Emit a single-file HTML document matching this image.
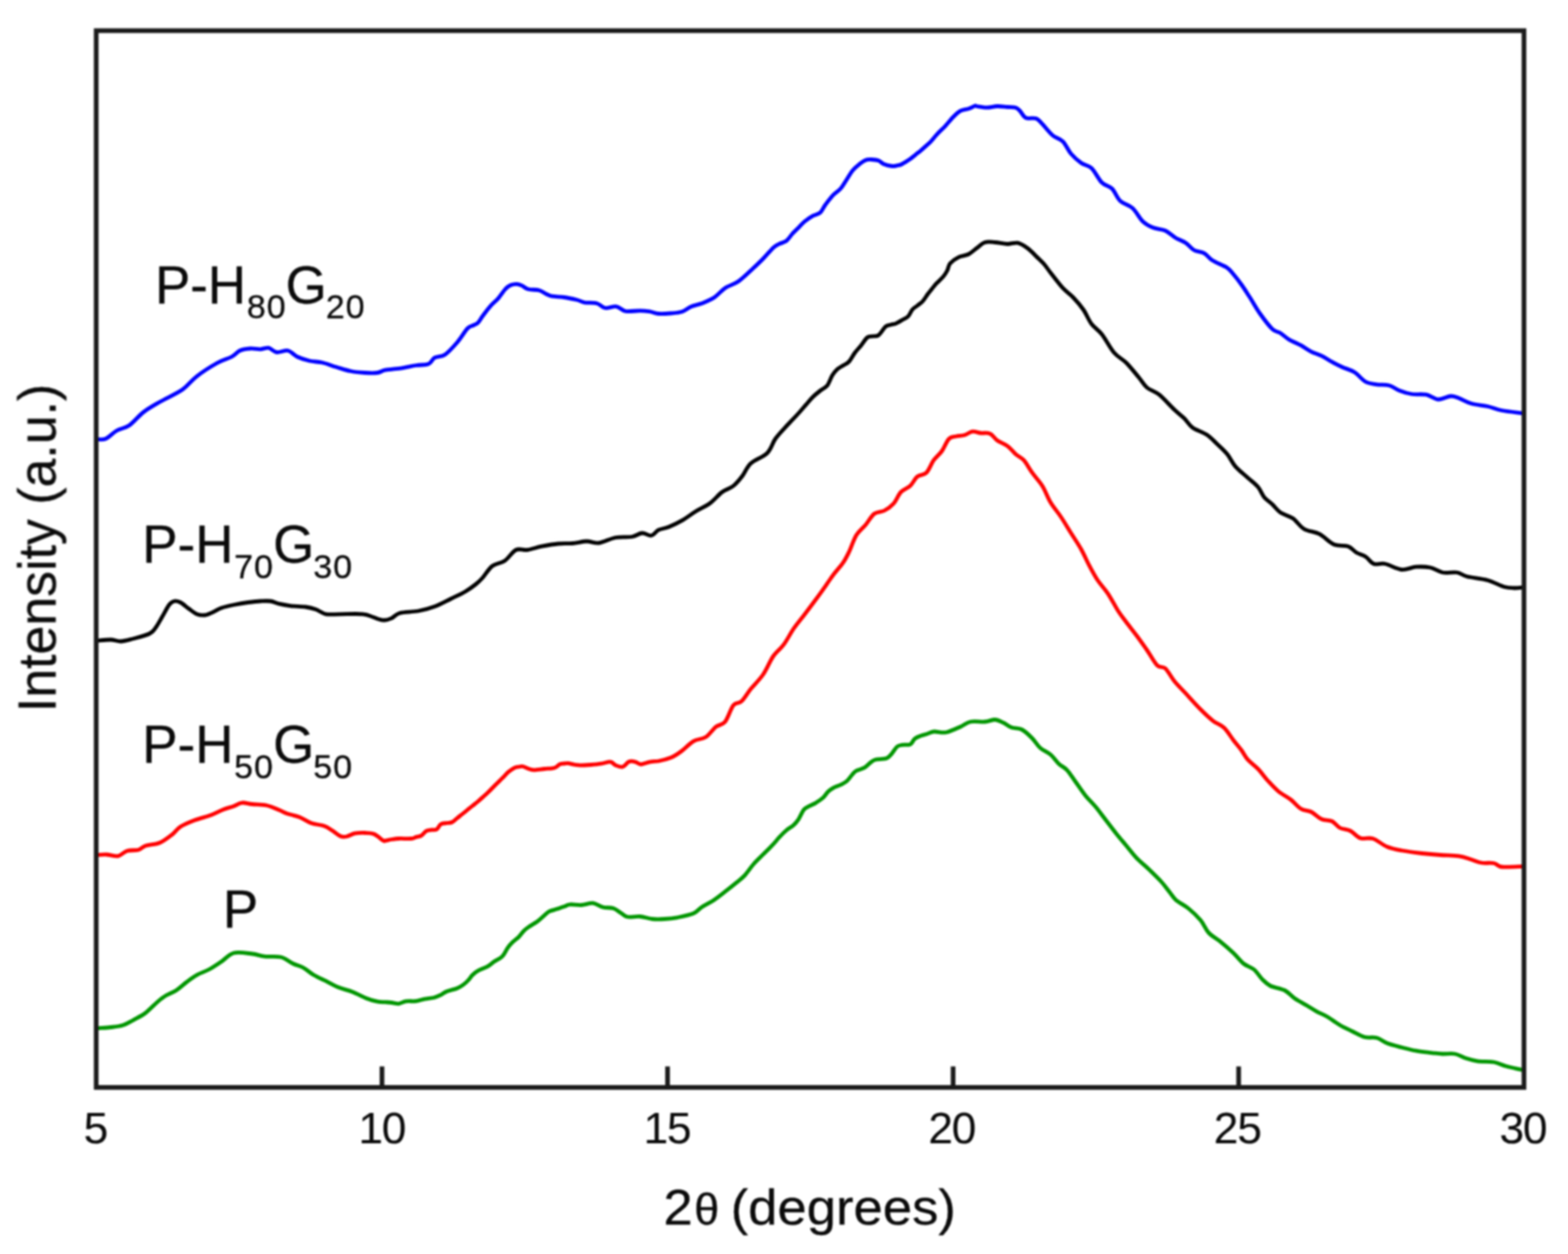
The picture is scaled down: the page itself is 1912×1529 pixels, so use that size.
<!DOCTYPE html>
<html lang="en"><head><meta charset="utf-8"><title>XRD patterns</title>
<style>
html,body{margin:0;padding:0;background:#fff;}
body{width:1912px;height:1529px;overflow:hidden;}
svg{display:block;}
text{font-family:"Liberation Sans",Arial,Helvetica,sans-serif;fill:#0a0a0a;stroke:#0a0a0a;stroke-width:0.35;stroke-linejoin:round;}
.c{fill:none;stroke-width:4.8;stroke-linejoin:round;stroke-linecap:butt;}
.tk{font-size:54px;letter-spacing:-1.5px;stroke-width:0.1;}
.xl{font-size:62px;}
.th{font-size:53px;}
.yl{font-size:63.2px;text-anchor:middle;}
.lb{font-size:64.5px;}
.sb{font-size:41.5px;letter-spacing:1.2px;}
</style></head><body>
<svg xmlns="http://www.w3.org/2000/svg" width="1912" height="1529" viewBox="0 0 1912 1529">
<defs><filter id="soft" x="-2%" y="-2%" width="104%" height="104%" color-interpolation-filters="sRGB"><feGaussianBlur stdDeviation="0.9"/></filter></defs>
<rect x="0" y="0" width="1912" height="1529" fill="#ffffff"/>
<g filter="url(#soft)">
<path class="c" stroke="#009600" d="M118.5 1253.8C121.2 1253.5 129.8 1253.1 135.0 1252.5C140.2 1251.9 145.4 1251.5 150.0 1250.0C154.6 1248.5 157.9 1246.2 162.5 1243.8C167.1 1241.2 172.5 1238.8 177.5 1235.0C182.5 1231.2 188.3 1224.8 192.5 1221.2C196.7 1217.7 198.8 1216.0 202.5 1213.8C206.2 1211.5 210.8 1210.2 215.0 1207.5C219.2 1204.8 223.3 1200.6 227.5 1197.5C231.7 1194.4 235.4 1191.3 240.0 1188.8C244.6 1186.2 250.0 1184.7 255.0 1182.0C260.0 1179.3 265.0 1175.8 270.0 1172.5C275.0 1169.2 278.8 1163.6 285.0 1162.0C291.2 1160.4 301.2 1162.3 307.5 1163.0C313.8 1163.7 316.7 1165.6 322.5 1166.2C328.3 1166.9 336.7 1165.5 342.5 1167.0C348.3 1168.5 352.9 1172.8 357.5 1175.0C362.1 1177.2 365.8 1177.7 370.0 1180.0C374.2 1182.3 377.9 1186.0 382.5 1188.8C387.1 1191.5 392.5 1193.8 397.5 1196.2C402.5 1198.8 407.1 1201.5 412.5 1203.8C417.9 1206.0 424.2 1207.2 430.0 1209.5C435.8 1211.8 442.5 1215.5 447.5 1217.5C452.5 1219.5 456.2 1220.5 460.0 1221.2C463.8 1222.0 467.1 1221.7 470.0 1221.9C472.9 1222.1 474.8 1222.2 477.5 1222.5C480.2 1222.8 483.3 1224.0 486.2 1223.8C489.2 1223.5 491.5 1221.4 495.0 1220.9C498.5 1220.4 503.8 1221.1 507.5 1220.6C511.2 1220.2 513.8 1218.8 517.5 1218.1C521.2 1217.4 526.7 1217.1 530.0 1216.2C533.3 1215.4 535.0 1214.4 537.5 1213.1C540.0 1211.9 541.7 1210.1 545.0 1208.8C548.3 1207.4 554.2 1206.4 557.5 1205.0C560.8 1203.6 562.7 1202.3 565.0 1200.6C567.3 1199.0 569.4 1197.0 571.2 1195.0C573.1 1193.0 574.4 1190.6 576.2 1188.8C578.1 1186.9 579.4 1185.5 582.5 1183.8C585.6 1182.0 591.7 1180.0 595.0 1178.1C598.3 1176.2 599.6 1174.5 602.5 1172.5C605.4 1170.5 609.8 1169.0 612.5 1166.2C615.2 1163.5 616.7 1159.2 618.8 1156.2C620.8 1153.3 622.7 1151.0 625.0 1148.8C627.3 1146.5 630.2 1144.8 632.5 1142.5C634.8 1140.2 636.7 1137.1 638.8 1135.0C640.8 1132.9 642.3 1131.9 645.0 1130.0C647.7 1128.1 651.9 1126.0 655.0 1123.8C658.1 1121.5 661.2 1118.3 663.8 1116.2C666.2 1114.2 667.3 1112.6 670.0 1111.2C672.7 1109.9 676.9 1109.2 680.0 1108.1C683.1 1107.1 686.2 1105.9 688.8 1105.0C691.2 1104.1 691.6 1103.0 695.0 1102.8C698.4 1102.5 704.3 1103.8 709.0 1103.5C713.7 1103.2 718.6 1100.8 723.0 1101.2C727.4 1101.7 731.3 1105.2 735.5 1106.2C739.7 1107.3 744.2 1106.2 748.0 1107.5C751.8 1108.8 755.1 1112.0 758.0 1113.8C760.9 1115.5 761.8 1117.4 765.5 1118.0C769.2 1118.6 775.5 1117.1 780.5 1117.5C785.5 1117.9 790.5 1120.0 795.5 1120.5C800.5 1121.0 805.5 1120.8 810.5 1120.5C815.5 1120.2 819.7 1119.9 825.5 1118.8C831.3 1117.6 840.5 1115.8 845.5 1113.8C850.5 1111.7 851.3 1109.0 855.5 1106.2C859.7 1103.5 865.5 1100.8 870.5 1097.5C875.5 1094.2 880.9 1089.8 885.5 1086.2C890.1 1082.7 894.2 1079.4 898.0 1076.2C901.8 1073.1 904.5 1071.3 908.0 1067.5C911.5 1063.7 915.1 1057.9 919.0 1053.5C922.9 1049.1 927.5 1045.0 931.2 1041.2C935.0 1037.5 938.1 1034.6 941.2 1031.2C944.4 1027.9 947.1 1024.4 950.0 1021.2C952.9 1018.1 955.8 1015.0 958.8 1012.5C961.7 1010.0 965.0 1008.5 967.5 1006.2C970.0 1004.0 971.7 1001.9 973.8 998.8C975.8 995.6 978.1 990.0 980.0 987.5C981.9 985.0 982.5 985.2 985.0 983.8C987.5 982.3 991.9 980.6 995.0 978.8C998.1 976.9 1001.2 974.8 1003.8 972.5C1006.2 970.2 1007.9 967.0 1010.0 965.0C1012.1 963.0 1013.8 962.0 1016.2 960.6C1018.8 959.2 1022.3 958.2 1025.0 956.9C1027.7 955.5 1030.2 954.5 1032.5 952.5C1034.8 950.5 1036.9 947.1 1038.8 945.0C1040.6 942.9 1041.2 941.5 1043.8 940.0C1046.2 938.5 1050.8 937.9 1053.8 936.2C1056.7 934.6 1059.0 931.7 1061.2 930.0C1063.5 928.3 1064.2 927.2 1067.5 926.2C1070.8 925.3 1077.9 925.8 1081.2 924.5C1084.6 923.2 1085.4 921.1 1087.5 918.8C1089.6 916.4 1091.7 912.2 1093.8 910.5C1095.8 908.8 1097.3 908.8 1100.0 908.3C1102.7 907.8 1107.5 908.8 1110.0 907.6C1112.5 906.4 1113.1 902.9 1115.0 901.2C1116.9 899.6 1118.8 898.7 1121.2 897.7C1123.8 896.7 1127.0 896.0 1130.0 895.0C1133.0 894.0 1135.1 892.3 1139.0 892.0C1142.9 891.7 1148.2 894.0 1153.5 893.0C1158.8 892.0 1166.0 888.4 1171.0 886.2C1176.0 884.1 1178.5 881.0 1183.5 880.0C1188.5 879.0 1196.0 880.4 1201.0 880.0C1206.0 879.6 1209.8 877.3 1213.5 877.5C1217.2 877.7 1220.2 879.7 1223.5 881.2C1226.8 882.8 1229.8 885.6 1233.5 887.0C1237.2 888.4 1241.8 887.3 1246.0 889.5C1250.2 891.7 1254.8 896.2 1258.5 900.0C1262.2 903.8 1264.8 908.7 1268.5 912.0C1272.2 915.3 1277.2 916.8 1281.0 920.0C1284.8 923.2 1287.7 928.1 1291.0 931.2C1294.3 934.4 1297.7 935.2 1301.0 938.8C1304.3 942.3 1307.2 947.3 1311.0 952.5C1314.8 957.7 1319.3 964.8 1323.5 970.0C1327.7 975.2 1331.8 978.8 1336.0 983.8C1340.2 988.8 1344.3 994.6 1348.5 1000.0C1352.7 1005.4 1356.8 1011.0 1361.0 1016.2C1365.2 1021.5 1369.3 1026.2 1373.5 1031.2C1377.7 1036.2 1381.4 1041.5 1386.0 1046.2C1390.6 1051.0 1396.0 1055.2 1401.0 1060.0C1406.0 1064.8 1411.8 1070.4 1416.0 1075.0C1420.2 1079.6 1423.0 1083.8 1426.0 1087.5C1429.0 1091.2 1430.2 1094.2 1434.0 1097.5C1437.8 1100.8 1444.0 1103.4 1449.0 1107.5C1454.0 1111.6 1459.8 1117.0 1464.0 1122.0C1468.2 1127.0 1469.8 1133.0 1474.0 1137.5C1478.2 1142.0 1484.0 1144.7 1489.0 1148.8C1494.0 1152.8 1499.4 1157.6 1504.0 1162.0C1508.6 1166.4 1512.3 1171.7 1516.5 1175.0C1520.7 1178.3 1525.2 1178.9 1529.0 1182.0C1532.8 1185.1 1535.7 1190.4 1539.0 1193.8C1542.3 1197.1 1544.4 1199.7 1549.0 1202.0C1553.6 1204.3 1561.5 1204.9 1566.5 1207.5C1571.5 1210.1 1574.4 1214.4 1579.0 1217.5C1583.6 1220.6 1589.4 1223.5 1594.0 1226.2C1598.6 1229.0 1602.3 1231.5 1606.5 1233.8C1610.7 1236.0 1614.4 1237.3 1619.0 1240.0C1623.6 1242.7 1629.0 1247.1 1634.0 1250.0C1639.0 1252.9 1644.0 1255.1 1649.0 1257.5C1654.0 1259.9 1659.0 1263.2 1664.0 1264.5C1669.0 1265.8 1674.4 1264.2 1679.0 1265.5C1683.6 1266.8 1686.5 1270.1 1691.5 1272.0C1696.5 1273.9 1703.2 1275.5 1709.0 1277.0C1714.8 1278.5 1720.2 1280.1 1726.5 1281.2C1732.8 1282.4 1741.1 1283.1 1746.5 1283.8C1751.9 1284.4 1754.4 1284.8 1759.0 1285.0C1763.6 1285.2 1769.4 1284.2 1774.0 1285.0C1778.6 1285.8 1781.9 1288.5 1786.5 1290.0C1791.1 1291.5 1795.7 1292.9 1801.5 1293.8C1807.3 1294.6 1815.7 1294.0 1821.5 1295.0C1827.3 1296.0 1830.7 1298.4 1836.5 1300.0C1842.3 1301.6 1853.2 1303.8 1856.5 1304.5"/>
<path class="c" stroke="#ff0000" d="M118.5 1042.5C120.4 1042.4 125.8 1041.8 130.0 1042.0C134.2 1042.2 139.6 1044.5 143.8 1043.8C147.9 1043.0 150.8 1038.8 155.0 1037.5C159.2 1036.2 165.0 1037.3 168.8 1036.2C172.5 1035.2 173.1 1032.7 177.5 1031.2C181.9 1029.8 189.6 1029.8 195.0 1027.5C200.4 1025.2 205.8 1020.8 210.0 1017.5C214.2 1014.2 215.4 1010.9 220.0 1008.0C224.6 1005.1 231.2 1002.4 237.5 1000.0C243.8 997.6 251.7 995.9 257.5 993.8C263.3 991.6 267.9 988.8 272.5 987.0C277.1 985.2 281.2 984.4 285.0 983.0C288.8 981.6 291.2 979.2 295.0 978.8C298.8 978.3 302.5 980.0 307.5 980.5C312.5 981.0 319.6 980.8 325.0 982.0C330.4 983.2 335.8 985.8 340.0 987.5C344.2 989.2 345.8 990.5 350.0 992.0C354.2 993.5 360.0 994.3 365.0 996.2C370.0 998.2 375.0 1002.0 380.0 1003.8C385.0 1005.5 390.8 1005.5 395.0 1007.0C399.2 1008.5 401.7 1010.4 405.0 1012.5C408.3 1014.6 412.1 1018.2 415.0 1019.5C417.9 1020.8 419.6 1020.5 422.5 1020.0C425.4 1019.5 428.8 1017.0 432.5 1016.2C436.2 1015.5 441.0 1015.4 445.0 1015.5C449.0 1015.6 452.5 1015.4 456.2 1017.0C460.0 1018.6 465.2 1023.7 467.5 1025.0C469.8 1026.3 468.3 1025.2 470.0 1025.0C471.7 1024.8 474.8 1023.9 477.5 1023.5C480.2 1023.1 482.3 1022.7 486.2 1022.5C490.2 1022.3 497.7 1022.8 501.2 1022.5C504.8 1022.2 505.4 1021.2 507.5 1020.6C509.6 1020.0 511.7 1020.0 513.8 1018.8C515.8 1017.5 517.9 1014.3 520.0 1013.1C522.1 1012.0 524.2 1012.2 526.2 1011.9C528.3 1011.6 530.6 1012.4 532.5 1011.2C534.4 1010.1 535.4 1006.3 537.5 1005.0C539.6 1003.7 542.7 1003.9 545.0 1003.5C547.3 1003.1 549.2 1003.5 551.2 1002.5C553.3 1001.5 555.4 999.2 557.5 997.5C559.6 995.8 561.7 994.2 563.8 992.5C565.8 990.8 567.9 989.2 570.0 987.5C572.1 985.8 574.2 984.2 576.2 982.5C578.3 980.8 580.4 979.3 582.5 977.5C584.6 975.7 586.7 973.8 588.8 971.9C590.8 970.0 592.9 968.2 595.0 966.2C597.1 964.3 599.2 962.1 601.2 960.0C603.3 957.9 605.4 955.8 607.5 953.8C609.6 951.7 611.7 949.6 613.8 947.5C615.8 945.4 617.7 943.1 620.0 941.2C622.3 939.4 625.4 937.3 627.5 936.2C629.6 935.2 630.8 935.3 632.5 935.0C634.2 934.7 635.4 934.1 637.5 934.5C639.6 934.9 642.7 936.8 645.0 937.5C647.3 938.2 648.1 938.8 651.2 938.8C654.4 938.8 659.6 937.9 663.8 937.5C667.9 937.1 673.1 937.2 676.2 936.2C679.4 935.3 680.6 932.8 682.5 931.9C684.4 931.0 685.8 931.2 687.5 931.0C689.2 930.8 690.2 930.4 692.5 930.6C694.8 930.9 698.8 932.1 701.2 932.5C703.8 932.9 704.3 933.1 707.5 933.1C710.7 933.1 716.2 932.8 720.5 932.5C724.8 932.2 729.0 931.9 733.0 931.2C737.0 930.6 741.3 928.5 744.2 928.8C747.2 929.0 748.0 932.0 750.5 933.0C753.0 934.0 756.5 935.7 759.2 935.0C762.0 934.3 764.2 929.8 766.8 928.8C769.2 927.7 771.8 928.2 774.2 928.8C776.8 929.3 778.6 932.0 781.8 932.0C784.9 932.0 789.5 929.4 793.0 928.8C796.5 928.1 798.8 928.8 803.0 928.0C807.2 927.2 813.4 925.7 818.0 923.8C822.6 921.8 825.9 919.6 830.5 916.2C835.1 912.9 840.5 906.7 845.5 903.8C850.5 900.8 855.9 901.7 860.5 898.8C865.1 895.8 869.0 889.4 873.0 886.2C877.0 883.1 880.7 884.4 884.2 880.0C887.8 875.6 890.9 864.2 894.2 860.0C897.6 855.8 900.7 858.3 904.2 855.0C907.8 851.7 911.1 845.4 915.5 840.0C919.9 834.6 925.9 829.2 930.5 822.5C935.1 815.8 938.8 806.0 943.0 800.0C947.2 794.0 951.3 791.9 955.5 786.2C959.7 780.6 963.8 772.3 968.0 766.2C972.2 760.2 975.9 756.0 980.5 750.0C985.1 744.0 990.9 736.2 995.5 730.0C1000.1 723.8 1004.5 717.5 1008.0 712.5C1011.5 707.5 1013.4 704.4 1016.8 700.0C1020.1 695.6 1024.9 690.8 1028.0 686.2C1031.1 681.7 1032.8 678.1 1035.5 672.5C1038.2 666.9 1040.9 657.9 1044.2 652.5C1047.6 647.1 1051.9 644.3 1055.5 640.0C1059.1 635.7 1062.2 629.4 1066.0 626.5C1069.8 623.6 1074.5 624.6 1078.5 622.5C1082.5 620.4 1086.4 617.5 1089.8 613.8C1093.1 610.0 1095.2 603.5 1098.5 600.0C1101.8 596.5 1106.4 595.6 1109.8 592.5C1113.1 589.4 1115.2 584.0 1118.5 581.2C1121.8 578.5 1126.4 579.6 1129.8 576.2C1133.1 572.9 1135.4 565.6 1138.5 561.2C1141.6 556.9 1145.4 554.4 1148.5 550.0C1151.6 545.6 1154.3 538.0 1157.2 535.0C1160.2 532.0 1162.9 532.8 1166.0 532.0C1169.1 531.2 1172.7 531.5 1176.0 530.5C1179.3 529.5 1182.7 526.7 1186.0 526.2C1189.3 525.8 1192.5 527.6 1196.0 528.0C1199.5 528.4 1203.9 527.2 1207.2 528.8C1210.6 530.2 1212.5 534.5 1216.0 537.0C1219.5 539.5 1224.8 541.0 1228.5 543.8C1232.2 546.5 1235.2 550.8 1238.5 553.8C1241.8 556.7 1245.2 557.5 1248.5 561.2C1251.8 565.0 1254.8 571.0 1258.5 576.2C1262.2 581.5 1267.2 586.5 1271.0 592.5C1274.8 598.5 1277.2 606.2 1281.0 612.5C1284.8 618.8 1289.3 623.8 1293.5 630.0C1297.7 636.2 1301.8 643.3 1306.0 650.0C1310.2 656.7 1314.8 663.3 1318.5 670.0C1322.2 676.7 1325.2 683.8 1328.5 690.0C1331.8 696.2 1334.8 701.9 1338.5 707.5C1342.2 713.1 1346.8 717.5 1351.0 723.8C1355.2 730.0 1359.8 739.2 1363.5 745.0C1367.2 750.8 1369.8 753.8 1373.5 758.8C1377.2 763.8 1381.8 769.4 1386.0 775.0C1390.2 780.6 1394.3 786.5 1398.5 792.5C1402.7 798.5 1407.2 807.5 1411.0 811.2C1414.8 815.0 1417.5 811.8 1421.0 815.0C1424.5 818.2 1427.8 825.3 1432.0 830.5C1436.2 835.7 1441.2 840.5 1446.5 846.2C1451.8 852.0 1458.6 859.6 1464.0 865.0C1469.4 870.4 1474.2 875.0 1479.0 878.8C1483.8 882.5 1488.6 883.5 1492.8 887.5C1496.9 891.5 1500.5 897.9 1504.0 902.5C1507.5 907.1 1511.1 911.0 1514.0 915.0C1516.9 919.0 1518.2 922.5 1521.5 926.2C1524.8 930.0 1529.8 933.1 1534.0 937.5C1538.2 941.9 1542.3 947.9 1546.5 952.5C1550.7 957.1 1554.4 961.2 1559.0 965.0C1563.6 968.8 1569.4 971.5 1574.0 975.0C1578.6 978.5 1582.3 983.8 1586.5 986.2C1590.7 988.8 1594.8 987.9 1599.0 990.0C1603.2 992.1 1607.3 996.9 1611.5 998.8C1615.7 1000.6 1620.2 999.5 1624.0 1001.2C1627.8 1003.0 1630.2 1007.5 1634.0 1009.5C1637.8 1011.5 1642.3 1010.9 1646.5 1013.0C1650.7 1015.1 1654.4 1020.4 1659.0 1022.0C1663.6 1023.6 1668.6 1020.8 1674.0 1022.5C1679.4 1024.2 1685.7 1030.1 1691.5 1032.5C1697.3 1034.9 1701.9 1035.7 1709.0 1037.0C1716.1 1038.3 1726.1 1039.6 1734.0 1040.5C1741.9 1041.4 1749.0 1042.0 1756.5 1042.5C1764.0 1043.0 1772.8 1042.8 1779.0 1043.8C1785.2 1044.7 1789.4 1046.6 1794.0 1048.0C1798.6 1049.4 1801.9 1051.2 1806.5 1052.0C1811.1 1052.8 1817.3 1051.7 1821.5 1052.5C1825.7 1053.3 1825.7 1056.3 1831.5 1057.0C1837.3 1057.7 1852.3 1056.6 1856.5 1056.5"/>
<path class="c" stroke="#000000" d="M118.5 781.2C121.2 781.0 130.2 779.9 135.0 780.0C139.8 780.1 142.9 782.2 147.5 782.0C152.1 781.8 156.7 780.3 162.5 778.8C168.3 777.2 177.9 774.8 182.5 772.5C187.1 770.2 187.5 768.3 190.0 765.0C192.5 761.7 194.8 757.1 197.5 752.5C200.2 747.9 203.8 740.8 206.2 737.5C208.8 734.2 210.2 733.5 212.5 733.0C214.8 732.5 217.1 733.0 220.0 734.5C222.9 736.0 226.7 739.6 230.0 742.0C233.3 744.4 236.7 747.4 240.0 748.8C243.3 750.1 246.7 750.4 250.0 750.0C253.3 749.6 256.7 747.7 260.0 746.2C263.3 744.8 265.8 742.7 270.0 741.2C274.2 739.8 279.6 738.6 285.0 737.5C290.4 736.4 297.1 735.2 302.5 734.5C307.9 733.8 312.9 733.2 317.5 733.0C322.1 732.8 326.2 732.5 330.0 733.0C333.8 733.5 335.8 735.3 340.0 736.2C344.2 737.2 349.6 738.1 355.0 738.8C360.4 739.4 367.5 739.3 372.5 740.0C377.5 740.7 380.8 741.5 385.0 743.0C389.2 744.5 392.5 747.8 397.5 748.8C402.5 749.7 407.5 748.8 415.0 748.8C422.5 748.8 435.8 748.1 442.5 748.8C449.2 749.4 450.8 751.2 455.0 752.5C459.2 753.8 463.8 756.0 467.5 756.2C471.2 756.5 474.2 755.2 477.5 753.8C480.8 752.3 482.1 749.0 487.5 747.5C492.9 746.0 502.9 746.3 510.0 745.0C517.1 743.7 523.3 742.0 530.0 739.5C536.7 737.0 543.8 733.0 550.0 730.0C556.2 727.0 562.5 724.2 567.5 721.2C572.5 718.3 576.6 715.2 580.0 712.5C583.4 709.8 584.6 708.8 588.0 705.0C591.4 701.2 595.9 693.5 600.5 690.0C605.1 686.5 610.7 687.0 615.5 683.8C620.3 680.5 624.7 672.7 629.2 670.5C633.8 668.3 637.8 671.2 643.0 670.5C648.2 669.8 654.2 667.5 660.5 666.2C666.8 665.0 674.2 663.6 680.5 663.0C686.8 662.4 692.2 663.0 698.0 662.5C703.8 662.0 710.1 660.1 715.5 660.0C720.9 659.9 724.7 662.8 730.5 662.0C736.3 661.2 743.8 656.8 750.5 655.5C757.2 654.2 765.1 655.4 770.5 654.5C775.9 653.6 779.0 650.2 783.0 650.0C787.0 649.8 790.9 653.6 794.2 653.0C797.6 652.4 799.5 648.0 803.0 646.2C806.5 644.5 810.5 644.6 815.5 642.5C820.5 640.4 827.6 636.9 833.0 633.8C838.4 630.6 842.6 627.1 848.0 623.8C853.4 620.4 860.1 617.7 865.5 613.8C870.9 609.8 875.7 603.5 880.5 600.0C885.3 596.5 890.1 595.8 894.2 592.5C898.4 589.2 902.0 584.6 905.5 580.0C909.0 575.4 910.5 569.6 915.5 565.0C920.5 560.4 930.5 557.5 935.5 552.5C940.5 547.5 941.8 540.2 945.5 535.0C949.2 529.8 954.0 525.0 957.5 521.1C961.0 517.3 963.3 515.0 966.2 511.9C969.2 508.8 972.2 505.6 975.0 502.5C977.8 499.4 980.4 496.2 983.1 493.1C985.8 490.0 988.4 486.8 991.2 484.0C994.1 481.2 997.1 478.8 1000.0 476.5C1002.9 474.2 1006.2 473.2 1008.8 470.0C1011.2 466.8 1012.9 460.8 1015.0 457.5C1017.1 454.2 1019.0 452.0 1021.2 450.0C1023.5 448.0 1026.5 446.7 1028.8 445.2C1031.0 443.8 1032.7 443.8 1035.0 441.2C1037.3 438.7 1040.0 433.3 1042.5 430.0C1045.0 426.7 1047.5 424.3 1050.0 421.2C1052.5 418.2 1055.1 413.4 1057.5 411.5C1059.9 409.6 1062.1 410.5 1064.4 410.0C1066.7 409.5 1068.6 410.7 1071.2 408.8C1073.9 406.8 1077.5 400.2 1080.0 398.1C1082.5 396.0 1084.2 396.6 1086.2 396.0C1088.3 395.4 1090.2 395.3 1092.5 394.4C1094.8 393.4 1097.5 391.7 1100.0 390.2C1102.5 388.8 1105.4 387.7 1107.5 385.6C1109.6 383.5 1110.6 379.7 1112.5 377.5C1114.4 375.3 1116.7 374.2 1118.8 372.5C1120.8 370.8 1122.9 369.8 1125.0 367.5C1127.1 365.2 1129.4 361.2 1131.2 358.8C1133.1 356.2 1134.6 354.6 1136.2 352.5C1137.9 350.4 1139.0 348.8 1141.2 346.2C1143.5 343.8 1147.7 340.2 1150.0 337.5C1152.3 334.8 1153.6 332.7 1155.0 330.0C1156.4 327.3 1156.2 324.0 1158.5 321.2C1160.8 318.5 1164.8 315.6 1168.5 313.8C1172.2 311.9 1177.2 311.9 1181.0 310.0C1184.8 308.1 1187.7 304.9 1191.0 302.5C1194.3 300.1 1197.2 296.7 1201.0 295.5C1204.8 294.3 1208.9 295.2 1213.5 295.5C1218.1 295.8 1223.9 297.4 1228.5 297.5C1233.1 297.6 1236.8 295.3 1241.0 296.2C1245.2 297.2 1249.8 300.3 1253.5 303.0C1257.2 305.7 1260.2 309.2 1263.5 312.5C1266.8 315.8 1270.6 319.2 1273.5 322.5C1276.4 325.8 1277.2 327.7 1281.0 332.5C1284.8 337.3 1291.4 346.2 1296.0 351.2C1300.6 356.2 1304.3 358.1 1308.5 362.5C1312.7 366.9 1317.2 372.1 1321.0 377.5C1324.8 382.9 1327.2 390.0 1331.0 395.0C1334.8 400.0 1338.9 401.7 1343.5 407.5C1348.1 413.3 1353.5 424.2 1358.5 430.0C1363.5 435.8 1368.5 437.5 1373.5 442.5C1378.5 447.5 1384.3 455.0 1388.5 460.0C1392.7 465.0 1394.3 469.0 1398.5 472.5C1402.7 476.0 1407.9 476.8 1413.5 481.2C1419.1 485.8 1426.9 494.7 1432.0 499.5C1437.1 504.3 1440.3 506.4 1444.0 510.0C1447.7 513.6 1449.4 517.9 1454.0 521.2C1458.6 524.6 1466.5 526.7 1471.5 530.0C1476.5 533.3 1479.8 537.3 1484.0 541.2C1488.2 545.2 1492.8 549.2 1496.5 553.8C1500.2 558.3 1502.3 564.0 1506.5 568.8C1510.7 573.5 1516.9 578.3 1521.5 582.5C1526.1 586.7 1530.7 589.8 1534.0 593.8C1537.3 597.7 1538.6 602.7 1541.5 606.2C1544.4 609.8 1548.2 611.9 1551.5 615.0C1554.8 618.1 1557.3 622.2 1561.5 625.0C1565.7 627.8 1571.7 628.7 1576.5 632.0C1581.3 635.3 1584.8 641.8 1590.2 645.0C1595.7 648.2 1603.0 648.1 1609.0 651.2C1615.0 654.4 1620.7 661.2 1626.5 663.8C1632.3 666.2 1639.4 664.6 1644.0 666.2C1648.6 667.9 1650.5 671.7 1654.0 673.8C1657.5 675.8 1661.7 676.5 1665.2 678.8C1668.8 681.0 1671.3 686.0 1675.2 687.5C1679.2 689.0 1683.4 686.3 1689.0 687.5C1694.6 688.7 1702.8 693.9 1709.0 694.5C1715.2 695.1 1720.7 691.7 1726.5 691.2C1732.3 690.8 1738.6 690.9 1744.0 692.0C1749.4 693.1 1753.6 697.0 1759.0 698.0C1764.4 699.0 1771.5 697.2 1776.5 698.0C1781.5 698.8 1782.8 701.4 1789.0 703.0C1795.2 704.6 1806.5 705.4 1814.0 707.5C1821.5 709.6 1828.6 713.9 1834.0 715.5C1839.4 717.1 1842.8 716.9 1846.5 717.0C1850.2 717.1 1854.8 716.4 1856.5 716.2"/>
<path class="c" stroke="#0000ff" d="M118.5 535.5C120.2 535.4 124.8 536.8 128.8 535.0C132.8 533.2 137.7 527.7 142.5 525.0C147.3 522.3 152.1 522.5 157.5 518.8C162.9 515.0 168.8 507.3 175.0 502.5C181.2 497.7 187.1 494.6 195.0 490.0C202.9 485.4 215.0 480.2 222.5 475.0C230.0 469.8 232.9 464.2 240.0 458.8C247.1 453.3 257.9 446.5 265.0 442.5C272.1 438.5 277.9 437.5 282.5 435.0C287.1 432.5 288.8 429.2 292.5 427.5C296.2 425.8 300.8 425.3 305.0 425.0C309.2 424.7 313.8 425.9 317.5 425.8C321.2 425.6 324.2 423.6 327.5 424.2C330.8 424.9 333.5 429.0 337.5 429.5C341.5 430.0 347.1 426.6 351.2 427.5C355.4 428.4 358.1 432.9 362.5 435.0C366.9 437.1 372.5 438.8 377.5 440.0C382.5 441.2 387.1 440.8 392.5 442.0C397.9 443.2 404.2 445.8 410.0 447.5C415.8 449.2 421.7 451.3 427.5 452.5C433.3 453.7 439.6 454.2 445.0 454.5C450.4 454.8 455.8 455.0 460.0 454.5C464.2 454.0 465.0 452.2 470.0 451.2C475.0 450.3 483.8 449.7 490.0 448.8C496.2 447.8 502.1 446.3 507.5 445.5C512.9 444.7 518.8 445.3 522.5 443.8C526.2 442.2 526.7 438.1 530.0 436.2C533.3 434.4 537.9 435.6 542.5 432.5C547.1 429.4 552.9 422.8 557.5 417.5C562.1 412.2 566.7 404.0 570.0 400.5C573.3 397.0 575.4 397.6 577.5 396.5C579.6 395.4 581.0 395.0 582.5 393.8C584.0 392.5 585.2 390.2 586.2 388.8C587.3 387.3 586.9 387.5 588.8 385.0C590.6 382.5 594.4 377.3 597.5 373.8C600.6 370.2 604.4 367.3 607.5 363.8C610.6 360.2 613.8 355.2 616.2 352.5C618.8 349.8 620.2 348.7 622.5 347.7C624.8 346.7 627.7 346.2 630.0 346.3C632.3 346.4 634.0 347.1 636.2 348.1C638.5 349.1 640.2 351.5 643.8 352.5C647.3 353.5 653.8 353.0 657.5 354.0C661.2 355.0 663.7 357.3 666.2 358.5C668.8 359.7 669.4 360.6 673.0 361.2C676.6 361.9 683.0 361.8 688.0 362.5C693.0 363.2 698.8 364.5 703.0 365.5C707.2 366.5 708.8 368.0 713.0 368.8C717.2 369.5 723.8 368.9 728.0 370.0C732.2 371.1 734.0 374.9 738.0 375.5C742.0 376.1 747.6 373.1 751.8 373.8C755.9 374.4 758.2 378.7 763.0 379.5C767.8 380.3 775.5 378.7 780.5 378.8C785.5 378.8 789.2 379.4 793.0 380.0C796.8 380.6 798.8 382.2 803.0 382.5C807.2 382.8 813.2 382.4 818.0 382.0C822.8 381.6 827.6 381.4 831.8 380.0C835.9 378.6 839.0 375.4 843.0 373.8C847.0 372.1 850.9 371.8 855.5 370.0C860.1 368.2 865.7 366.1 870.5 363.0C875.3 359.9 879.2 354.6 884.2 351.2C889.2 347.9 894.9 347.0 900.5 343.0C906.1 339.0 913.0 332.1 918.0 327.5C923.0 322.9 926.3 319.8 930.5 315.5C934.7 311.2 939.8 305.0 943.0 302.0C946.2 299.0 947.4 298.9 950.0 297.5C952.6 296.1 956.0 295.8 958.8 293.8C961.5 291.7 963.8 287.7 966.2 285.0C968.8 282.3 971.2 280.0 973.8 277.5C976.2 275.0 978.5 272.3 981.2 270.0C984.0 267.7 986.9 265.5 990.0 263.8C993.1 262.0 997.3 261.7 1000.0 259.4C1002.7 257.1 1003.8 253.4 1006.2 250.0C1008.8 246.6 1011.9 242.1 1015.0 238.8C1018.1 235.4 1022.1 233.3 1025.0 230.0C1027.9 226.7 1030.0 222.5 1032.5 218.8C1035.0 215.0 1037.5 210.5 1040.0 207.5C1042.5 204.5 1045.0 202.6 1047.5 200.6C1050.0 198.6 1052.5 196.4 1055.0 195.4C1057.5 194.4 1059.8 194.4 1062.5 194.5C1065.2 194.6 1068.8 194.8 1071.2 195.8C1073.8 196.7 1074.8 198.9 1077.5 200.0C1080.2 201.1 1084.8 202.2 1087.5 202.5C1090.2 202.8 1091.7 202.3 1093.8 201.9C1095.8 201.5 1097.3 201.4 1100.0 200.0C1102.7 198.6 1107.3 195.6 1110.0 193.8C1112.7 191.9 1114.2 190.4 1116.2 188.8C1118.3 187.1 1119.6 186.2 1122.5 183.8C1125.4 181.2 1130.4 177.1 1133.8 173.8C1137.1 170.4 1139.4 167.1 1142.5 163.8C1145.6 160.4 1149.2 157.3 1152.5 153.8C1155.8 150.2 1159.4 145.6 1162.5 142.5C1165.6 139.4 1168.1 136.9 1171.2 135.2C1174.4 133.6 1178.3 133.5 1181.2 132.5C1184.2 131.5 1187.4 129.5 1189.0 129.0C1190.6 128.5 1188.6 129.1 1191.0 129.5C1193.4 129.9 1199.3 131.2 1203.5 131.2C1207.7 131.2 1211.8 129.6 1216.0 129.5C1220.2 129.4 1224.8 130.2 1228.5 130.5C1232.2 130.8 1236.0 130.5 1238.5 131.2C1241.0 132.0 1241.4 132.9 1243.5 135.0C1245.6 137.1 1247.7 142.2 1251.0 143.8C1254.3 145.3 1260.2 143.2 1263.5 144.5C1266.8 145.8 1267.7 147.8 1271.0 151.2C1274.3 154.7 1279.3 161.5 1283.5 165.0C1287.7 168.5 1292.2 168.8 1296.0 172.5C1299.8 176.2 1302.2 183.1 1306.0 187.5C1309.8 191.9 1314.3 195.8 1318.5 198.8C1322.7 201.7 1326.8 201.0 1331.0 205.0C1335.2 209.0 1339.3 218.3 1343.5 222.5C1347.7 226.7 1352.2 226.2 1356.0 230.0C1359.8 233.8 1361.8 241.0 1366.0 245.0C1370.2 249.0 1376.4 249.6 1381.0 253.8C1385.6 257.9 1389.3 266.0 1393.5 270.0C1397.7 274.0 1401.4 275.6 1406.0 277.5C1410.6 279.4 1416.4 279.2 1421.0 281.2C1425.6 283.3 1429.3 287.5 1433.5 290.0C1437.7 292.5 1442.2 293.8 1446.0 296.2C1449.8 298.8 1452.2 302.9 1456.0 305.0C1459.8 307.1 1464.8 306.7 1468.5 308.8C1472.2 310.8 1473.9 314.6 1478.5 317.5C1483.1 320.4 1491.8 323.5 1496.0 326.2C1500.2 329.0 1500.4 330.1 1503.5 333.8C1506.6 337.4 1511.1 343.2 1514.5 348.0C1517.9 352.8 1520.3 356.8 1524.0 362.5C1527.7 368.2 1531.9 376.0 1536.5 382.5C1541.1 389.0 1547.3 397.3 1551.5 401.2C1555.7 405.2 1558.2 404.2 1561.5 406.2C1564.8 408.3 1567.3 411.2 1571.5 413.8C1575.7 416.2 1581.9 418.8 1586.5 421.2C1591.1 423.8 1594.8 426.7 1599.0 428.8C1603.2 430.8 1607.3 431.7 1611.5 433.8C1615.7 435.8 1619.8 439.0 1624.0 441.2C1628.2 443.5 1631.9 445.4 1636.5 447.5C1641.1 449.6 1646.7 450.8 1651.5 453.8C1656.3 456.8 1660.7 463.0 1665.2 465.5C1669.8 468.0 1674.2 468.0 1679.0 468.8C1683.8 469.5 1689.4 468.8 1694.0 470.0C1698.6 471.2 1701.9 474.5 1706.5 476.2C1711.1 478.0 1716.1 479.7 1721.5 480.5C1726.9 481.3 1733.6 480.2 1739.0 481.2C1744.4 482.3 1749.0 486.7 1754.0 487.0C1759.0 487.3 1764.8 483.2 1769.0 483.0C1773.2 482.8 1774.8 484.0 1779.0 485.5C1783.2 487.0 1788.2 490.3 1794.0 492.0C1799.8 493.7 1807.8 494.1 1814.0 495.5C1820.2 496.9 1824.4 499.1 1831.5 500.5C1838.6 501.9 1852.3 503.2 1856.5 503.8"/>
<line x1="465.8" y1="1300.3" x2="465.8" y2="1325.9" stroke="#1a1a1a" stroke-width="5.7"/>
<line x1="814.0" y1="1300.3" x2="814.0" y2="1325.9" stroke="#1a1a1a" stroke-width="5.7"/>
<line x1="1162.2" y1="1300.3" x2="1162.2" y2="1325.9" stroke="#1a1a1a" stroke-width="5.7"/>
<line x1="1510.4" y1="1300.3" x2="1510.4" y2="1325.9" stroke="#1a1a1a" stroke-width="5.7"/>
<rect x="117.30" y="37.40" width="1741.00" height="1288.50" fill="none" stroke="#1a1a1a" stroke-width="5.7"/>
<text class="tk" x="102.1" y="1394.3">5</text>
<text class="tk" x="437.0" y="1394.3">10</text>
<text class="tk" x="784.8" y="1394.3">15</text>
<text class="tk" x="1132.0" y="1394.3">20</text>
<text class="tk" x="1480.1" y="1394.3">25</text>
<text class="tk" x="1828.5" y="1394.3">30</text>
<text class="xl" transform="translate(0 1493.3) scale(1.035 1)"><tspan x="781.64">2</tspan><tspan class="th" x="817.97">θ</tspan><tspan x="843.67"> (degrees)</tspan></text>
<text class="yl" transform="translate(67.5 668.1) rotate(-90) scale(1 1.03)">Intensity (a.u.)</text>
<text class="lb" x="188.9" y="369.7">P-H<tspan class="sb" x="300.9" dy="18.5">80</tspan><tspan x="348.3" dy="-18.5">G</tspan><tspan class="sb" x="397.3" dy="18.5">20</tspan></text>
<text class="lb" x="173.6" y="686.1">P-H<tspan class="sb" x="285.6" dy="18.5">70</tspan><tspan x="333.0" dy="-18.5">G</tspan><tspan class="sb" x="382.0" dy="18.5">30</tspan></text>
<text class="lb" x="173.6" y="930.4">P-H<tspan class="sb" x="285.6" dy="18.5">50</tspan><tspan x="333.0" dy="-18.5">G</tspan><tspan class="sb" x="382.0" dy="18.5">50</tspan></text>
<text class="lb" x="271.7" y="1130.6">P</text>
</g>
</svg></body></html>
